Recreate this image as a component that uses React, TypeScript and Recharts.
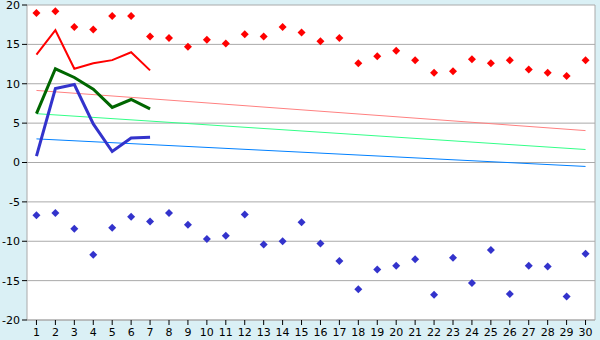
import {
  CartesianGrid,
  ComposedChart,
  Line,
  ReferenceLine,
  XAxis,
  YAxis,
} from "recharts";

const days = Array.from({ length: 30 }, (_, i) => i + 1);

// daily highs / lows (diamond markers)
const highs = [
  19, 19.2, 17.2, 16.9, 18.6, 18.6, 16, 15.8, 14.7, 15.6,
  15.1, 16.3, 16, 17.2, 16.5, 15.4, 15.8, 12.6, 13.5, 14.2,
  13, 11.4, 11.6, 13.1, 12.6, 13, 11.8, 11.4, 11, 13,
];
const lows = [
  -6.7, -6.4, -8.4, -11.7, -8.3, -6.9, -7.5, -6.4, -7.9, -9.7,
  -9.3, -6.6, -10.4, -10, -7.6, -10.3, -12.5, -16.1, -13.6, -13.1,
  -12.3, -16.8, -12.1, -15.3, -11.1, -16.7, -13.1, -13.2, -17, -11.6,
];

// first week lines
const weekHigh = [13.7, 16.8, 11.9, 12.6, 13, 14, 11.7];
const weekMid = [6.2, 11.9, 10.8, 9.3, 7, 8, 6.8];
const weekLow = [0.8, 9.4, 9.9, 4.9, 1.4, 3.1, 3.2];

// trend lines: value at day 1 and day 30
const trendHigh = [9.15, 4.05];
const trendMid = [6.2, 1.65];
const trendLow = [3.0, -0.5];

const yTicks = [-20, -15, -10, -5, 0, 5, 10, 15, 20];

const data = days.map((day, i) => ({
  day,
  high: highs[i],
  low: lows[i],
  wHigh: weekHigh[i] ?? null,
  wMid: weekMid[i] ?? null,
  wLow: weekLow[i] ?? null,
  tHigh: i === 0 ? trendHigh[0] : i === 29 ? trendHigh[1] : null,
  tMid: i === 0 ? trendMid[0] : i === 29 ? trendMid[1] : null,
  tLow: i === 0 ? trendLow[0] : i === 29 ? trendLow[1] : null,
}));

function Diamond(color: string) {
  return (props: any) => {
    const { cx, cy, index } = props;
    if (cx == null || cy == null) return <g key={index} />;
    return (
      <path
        key={index}
        d={`M${cx},${cy - 4}L${cx + 4},${cy}L${cx},${cy + 4}L${cx - 4},${cy}Z`}
        fill={color}
      />
    );
  };
}

const tickStyle = { fontSize: 11, fill: "#000", fontFamily: "DejaVu Sans" };

export default function App() {
  return (
    <div
      style={{
        position: "fixed",
        left: 0,
        top: 0,
        width: 600,
        height: 340,
        background: "#daf0f5",
      }}
    >
      <ComposedChart
        width={600}
        height={340}
        data={data}
        margin={{ top: 5, right: 5, bottom: 0, left: 0 }}
      >
        <CartesianGrid vertical={false} stroke="#aaa" fill="#fff" />
        <XAxis
          dataKey="day"
          type="number"
          domain={[0.5, 30.5]}
          ticks={days}
          interval={0}
          height={20}
          tick={tickStyle}
          tickSize={5}
          tickMargin={3}
          axisLine={{ stroke: "#aaa" }}
          tickLine={{ stroke: "#000" }}
        />
        <YAxis
          type="number"
          domain={[-20, 20]}
          ticks={yTicks}
          interval={0}
          width={27}
          tick={tickStyle}
          tickSize={5}
          tickMargin={2}
          axisLine={{ stroke: "#aaa" }}
          tickLine={{ stroke: "#000" }}
        />
        <ReferenceLine x={30.5} stroke="#aaa" />
        <Line dataKey="tHigh" stroke="#ff8080" strokeWidth={1} dot={false} connectNulls isAnimationActive={false} />
        <Line dataKey="tMid" stroke="#33ff88" strokeWidth={1} dot={false} connectNulls isAnimationActive={false} />
        <Line dataKey="tLow" stroke="#0080ff" strokeWidth={1} dot={false} connectNulls isAnimationActive={false} />
        <Line type="linear" dataKey="wHigh" stroke="#ff0000" strokeWidth={2} dot={false} isAnimationActive={false} />
        <Line type="linear" dataKey="wMid" stroke="#006600" strokeWidth={3} dot={false} isAnimationActive={false} />
        <Line type="linear" dataKey="wLow" stroke="#3333cc" strokeWidth={3} dot={false} isAnimationActive={false} />
        <Line dataKey="high" stroke="none" dot={Diamond("#ff0000")} activeDot={false} isAnimationActive={false} />
        <Line dataKey="low" stroke="none" dot={Diamond("#3333cc")} activeDot={false} isAnimationActive={false} />
      </ComposedChart>
    </div>
  );
}
